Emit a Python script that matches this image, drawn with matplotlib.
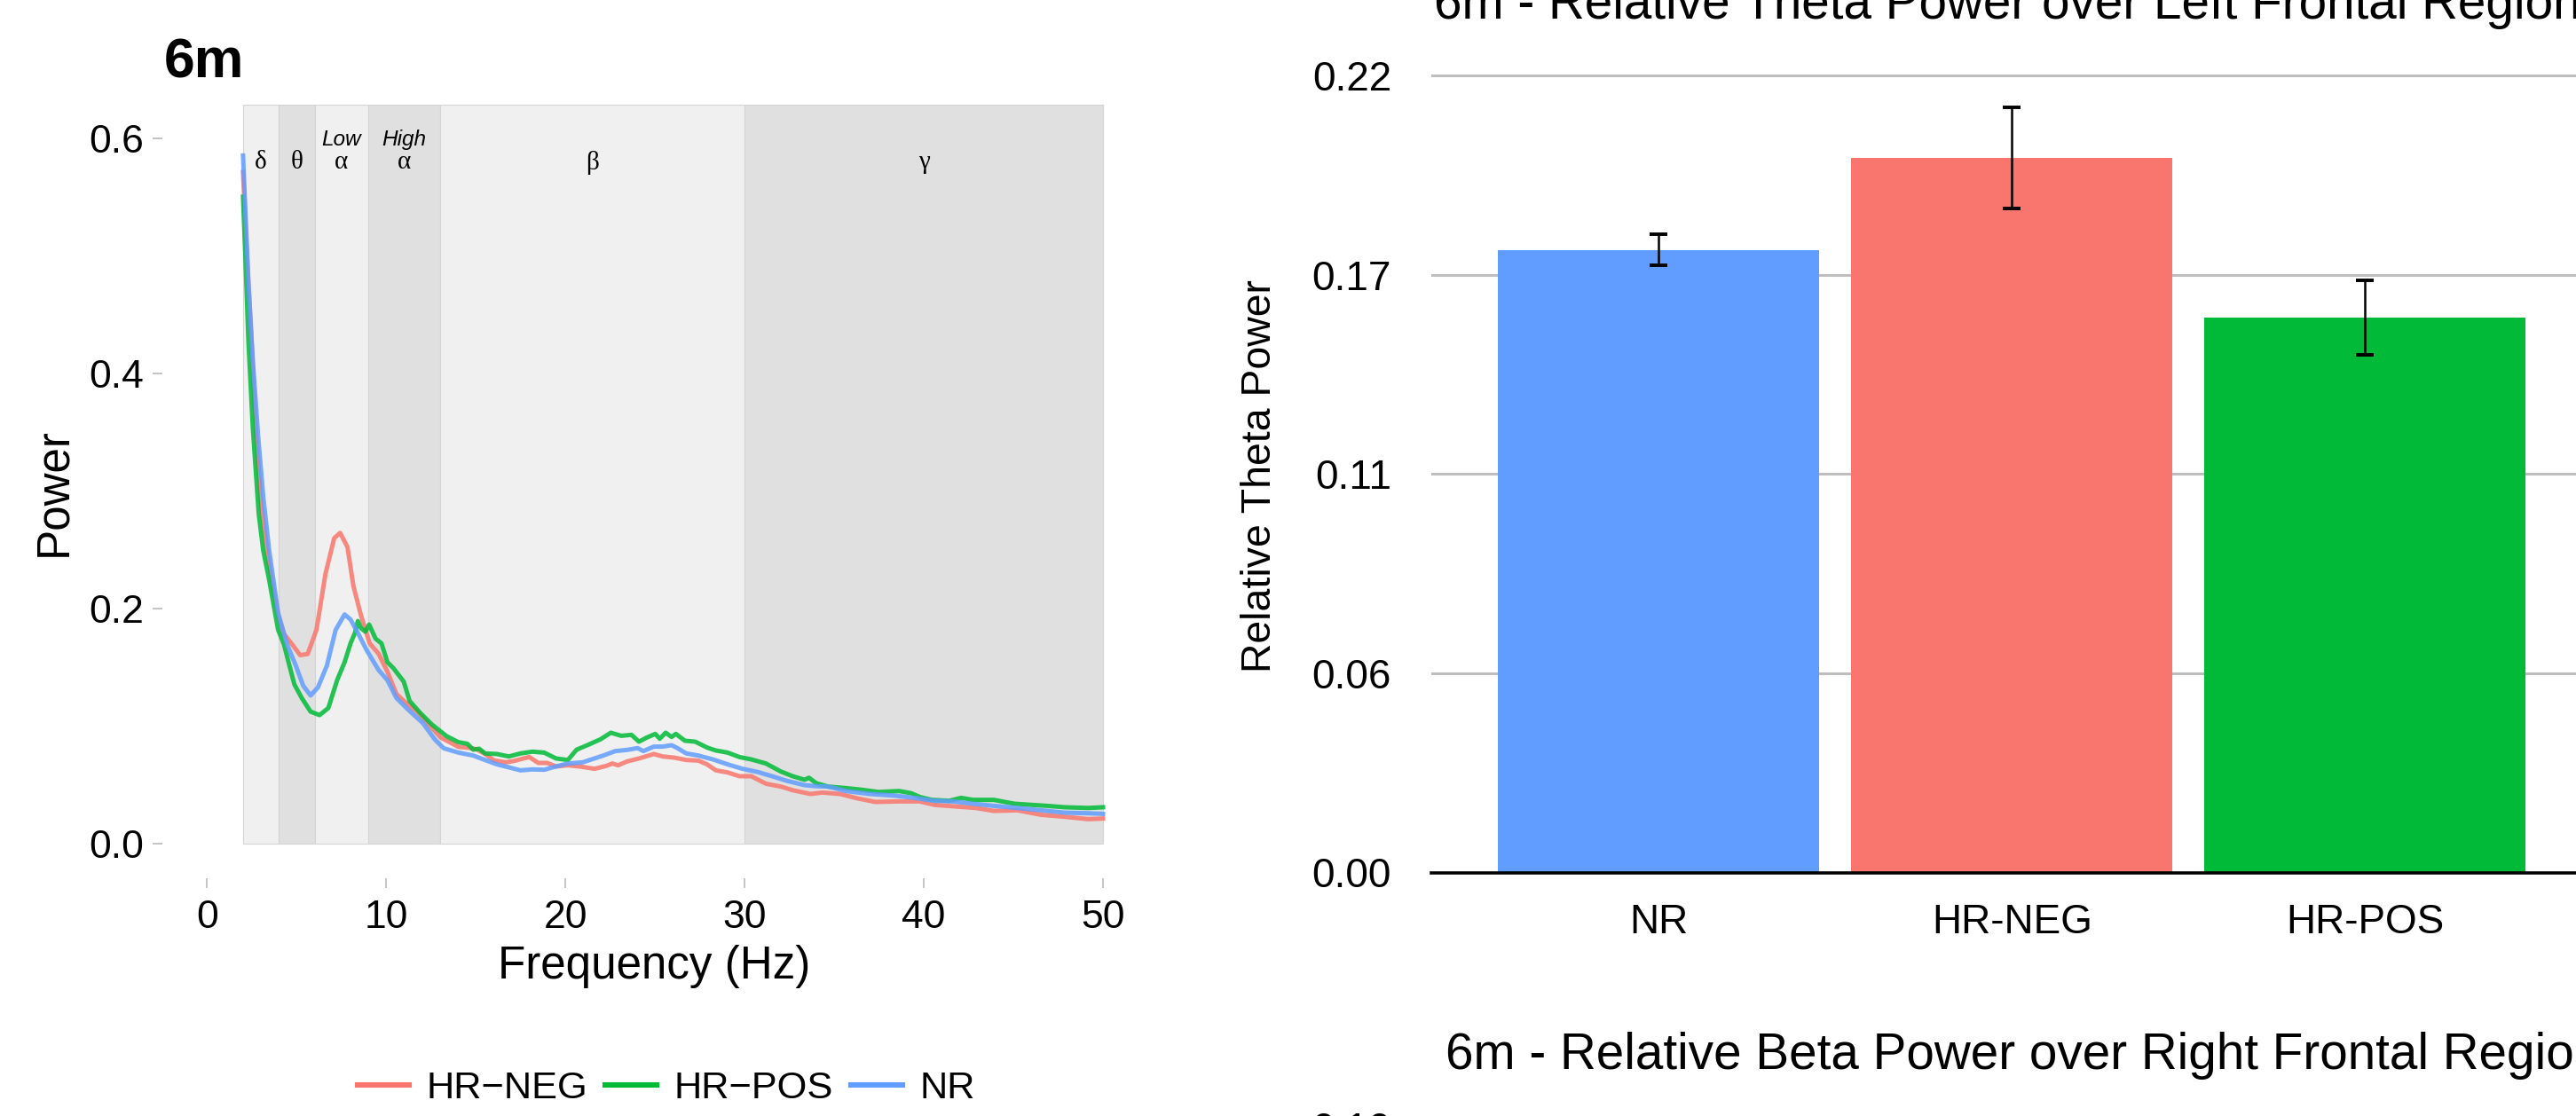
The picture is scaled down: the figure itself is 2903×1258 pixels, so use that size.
import matplotlib
matplotlib.use('Agg')
import matplotlib.pyplot as plt
from matplotlib.patches import Rectangle
from matplotlib.lines import Line2D

plt.rcParams['font.family'] = ['Liberation Sans', 'DejaVu Sans']

# ---------------- data: power spectra (left) ----------------
neg_freq = [2.0, 2.22, 2.47, 2.72, 3.0, 3.46, 3.96, 4.29, 4.70, 5.19, 5.61, 6.10, 6.60, 7.09, 7.42,
            7.83, 8.16, 8.58, 9.07, 9.56, 10.06, 10.56, 11.05, 11.71, 12.37, 13.03, 14.02, 14.69,
            15.02, 15.51, 16.0, 16.66, 17.16, 17.65, 17.98, 18.48, 18.98, 19.47, 20.13, 20.79,
            21.62, 22.28, 22.61, 22.94, 23.44, 24.10, 24.93, 25.42, 26.08, 26.74, 27.41, 27.90,
            28.39, 29.05, 29.71, 30.37, 31.19, 32.02, 32.68, 33.67, 34.33, 35.32, 36.31, 37.30,
            38.62, 39.77, 40.60, 41.92, 42.91, 43.90, 45.22, 46.54, 47.86, 49.18, 50.0]
neg_power = [0.571, 0.50, 0.428, 0.353, 0.29, 0.237, 0.194, 0.178, 0.170, 0.160, 0.161, 0.1815,
             0.229, 0.2595, 0.264, 0.252, 0.219, 0.194, 0.170, 0.1614, 0.146, 0.127, 0.120, 0.112,
             0.101, 0.090, 0.082, 0.081, 0.080, 0.076, 0.0705, 0.0688, 0.0701, 0.0721, 0.0733,
             0.0683, 0.0683, 0.0653, 0.0663, 0.0653, 0.0633, 0.0658, 0.0678, 0.0663, 0.0696,
             0.0721, 0.0759, 0.0738, 0.0728, 0.0708, 0.0703, 0.0671, 0.0620, 0.0602, 0.0570,
             0.0570, 0.0506, 0.0482, 0.0451, 0.0419, 0.0431, 0.0419, 0.0381, 0.0351, 0.0356,
             0.0356, 0.0326, 0.0311, 0.0300, 0.0275, 0.0280, 0.0242, 0.0225, 0.0205, 0.0210]

pos_freq = [2.0, 2.13, 2.30, 2.55, 2.88, 3.13, 3.46, 3.96, 4.29, 4.54, 4.87, 5.28, 5.77, 6.27, 6.76,
            7.26, 7.67, 8.0, 8.25, 8.41, 8.58, 8.83, 9.04, 9.40, 9.73, 10.06, 10.39, 10.97, 11.30,
            11.88, 12.54, 13.37, 14.02, 14.52, 14.85, 15.18, 15.51, 16.17, 16.83, 17.49, 18.15,
            18.81, 19.47, 20.13, 20.62, 21.29, 21.95, 22.53, 23.11, 23.68, 24.10, 24.51, 25.01,
            25.26, 25.59, 25.92, 26.16, 26.66, 27.24, 27.90, 28.39, 29.05, 29.71, 30.37, 31.19,
            32.02, 32.68, 33.34, 33.59, 34.0, 34.66, 35.65, 36.48, 37.47, 38.62, 39.28, 39.77,
            40.43, 41.42, 42.08, 42.74, 43.90, 45.05, 46.04, 46.87, 47.86, 49.18, 50.0]
pos_power = [0.550, 0.50, 0.428, 0.353, 0.28, 0.249, 0.224, 0.1815, 0.169, 0.154, 0.135, 0.1235,
             0.112, 0.109, 0.115, 0.139, 0.154, 0.170, 0.179, 0.189, 0.183, 0.180, 0.186, 0.174,
             0.170, 0.154, 0.149, 0.1375, 0.121, 0.111, 0.101, 0.091, 0.086, 0.0846, 0.0796,
             0.0804, 0.0764, 0.0759, 0.0738, 0.0764, 0.0779, 0.0771, 0.0721, 0.0708, 0.0796,
             0.0839, 0.0884, 0.0940, 0.0914, 0.0922, 0.0864, 0.0897, 0.0930, 0.0889, 0.0940,
             0.0904, 0.0930, 0.0872, 0.0864, 0.0814, 0.0789, 0.0771, 0.0733, 0.0713, 0.0678,
             0.0610, 0.0570, 0.0540, 0.0557, 0.0510, 0.0482, 0.0469, 0.0456, 0.0436, 0.0444,
             0.0426, 0.0394, 0.0369, 0.0361, 0.0386, 0.0369, 0.0369, 0.0336, 0.0326, 0.0318,
             0.0306, 0.0300, 0.0306]

nr_freq = [2.0, 2.30, 2.55, 2.85, 3.13, 3.46, 3.96, 4.46, 4.95, 5.36, 5.77, 6.18, 6.68, 7.17, 7.67,
           8.0, 8.41, 8.91, 9.56, 10.06, 10.56, 11.22, 12.04, 12.70, 13.20, 14.02, 14.85, 15.51,
           16.17, 16.83, 17.49, 18.15, 18.81, 19.47, 20.13, 20.95, 21.45, 22.11, 22.78, 23.44,
           24.02, 24.35, 24.93, 25.42, 25.92, 26.25, 26.74, 27.41, 28.23, 29.05, 29.88, 30.70,
           31.53, 32.35, 33.34, 34.0, 34.66, 35.65, 36.97, 38.29, 39.44, 40.60, 41.59, 42.74,
           43.90, 45.22, 46.54, 47.86, 49.18, 50.0]
nr_power = [0.585, 0.478, 0.41, 0.345, 0.2947, 0.249, 0.196, 0.169, 0.151, 0.134, 0.1257, 0.1325,
            0.151, 0.1815, 0.1946, 0.1904, 0.179, 0.164, 0.1475, 0.1387, 0.1236, 0.1136, 0.1022,
            0.0884, 0.0808, 0.0771, 0.0746, 0.0708, 0.0671, 0.0646, 0.0620, 0.0628, 0.0625,
            0.0653, 0.0678, 0.0688, 0.0713, 0.0746, 0.0784, 0.0794, 0.0809, 0.0784, 0.0822,
            0.0822, 0.0834, 0.0809, 0.0764, 0.0746, 0.0713, 0.0671, 0.0633, 0.0607, 0.0570,
            0.0531, 0.0494, 0.0485, 0.0482, 0.0444, 0.0419, 0.0406, 0.0386, 0.0361, 0.0356,
            0.0336, 0.0318, 0.0300, 0.0280, 0.0260, 0.0255, 0.0250]

band_start = [2, 4, 6, 9, 13, 30]
band_end = [4, 6, 9, 13, 30, 50]
band_symbol = ['δ', 'θ', 'α', 'α', 'β', 'γ']
band_prefix = ['', '', 'Low', 'High', '', '']

x_ticks = [0, 10, 20, 30, 40, 50]
y_ticks = [0.0, 0.2, 0.4, 0.6]
y_tick_labels = ['0.0', '0.2', '0.4', '0.6']

# ---------------- data: bar chart (right) ----------------
groups = ['NR', 'HR-NEG', 'HR-POS']
theta_mean = [0.1719, 0.1973, 0.1532]
theta_se = [0.0043, 0.0140, 0.0103]
bar_breaks = [0.0, 0.055, 0.11, 0.165, 0.22]
bar_break_labels = ['0.00', '0.06', '0.11', '0.17', '0.22']

RED, GREEN, BLUE = '#F8766D', '#00BA38', '#619CFF'

W, H, DPI = 2903, 1258, 200
fig = plt.figure(figsize=(W / DPI, H / DPI), dpi=DPI)


def fx(px):
    return px / W


def fy(py):
    return 1 - py / H


# ---------------- left panel ----------------
ax1 = fig.add_axes([fx(183), fy(990), fx(1293.5) - fx(183), fy(118.4) - fy(990)])
ytop = 0.628
ax1.set_xlim(-2.5, 52.5)
ax1.set_ylim(-0.0298, ytop)
for i, (s, e) in enumerate(zip(band_start, band_end)):
    fc = '#F0F0F0' if i % 2 == 0 else '#E0E0E0'
    ax1.add_patch(Rectangle((s, 0), e - s, ytop, facecolor=fc, edgecolor='#D4D4D4',
                            linewidth=0.4, zorder=0))
    cx = (s + e) / 2
    ax1.text(cx, 0.579, band_symbol[i], family=['Liberation Serif', 'DejaVu Serif'],
             fontsize=10.5, ha='center', va='center', zorder=3)
    if band_prefix[i]:
        ax1.text(cx, 0.5985, band_prefix[i], fontstyle='italic', fontsize=8.8,
                 ha='center', va='center', zorder=3)

ax1.plot(neg_freq, neg_power, color=RED, lw=1.8, alpha=0.85, zorder=2)
ax1.plot(pos_freq, pos_power, color=GREEN, lw=1.8, alpha=0.85, zorder=2)
ax1.plot(nr_freq, nr_power, color=BLUE, lw=1.8, alpha=0.85, zorder=2)

ax1.set_xticks(x_ticks)
ax1.set_xticklabels([str(t) for t in x_ticks])
ax1.set_yticks(y_ticks)
ax1.set_yticklabels(y_tick_labels)
ax1.tick_params(axis='both', colors='#C4C4C4', labelcolor='black', length=4, width=0.7,
                labelsize=16)
ax1.tick_params(axis='x', pad=4.7)
ax1.tick_params(axis='y', pad=3.6)
for sp in ax1.spines.values():
    sp.set_visible(False)

fig.text(fx(185), fy(87), '6m', fontsize=22.5, fontweight='bold', ha='left', va='baseline')
fig.text(fx(61), fy(555), 'Power', rotation=90, fontsize=18.4, ha='center', va='center')
fig.text(fx(737.5), fy(1090), 'Frequency (Hz)', fontsize=18.4, ha='center', va='center')

handles = [Line2D([], [], color=c, lw=2.2) for c in (RED, GREEN, BLUE)]
fig.legend(handles, ['HR\u2212NEG', 'HR\u2212POS', 'NR'], loc='center',
           bbox_to_anchor=(fx(751), fy(1227)), ncol=3, frameon=False, fontsize=15.6,
           handlelength=1.35, handletextpad=0.45, columnspacing=0.45, borderpad=0)

# ---------------- right panel ----------------
ax2 = fig.add_axes([fx(1612.5), fy(983.5), fx(2922) - fx(1612.5), fy(62.8) - fy(983.5)])
ax2.set_xlim(0.354, 3.646)
ax2.set_ylim(0, 0.2255)
for b in bar_breaks:
    ax2.axhline(b, color='#BEBEBE', lw=1.1, zorder=0)
ax2.bar([1, 2, 3], theta_mean, width=0.91, color=[BLUE, RED, GREEN], zorder=2)
ax2.errorbar([1, 2, 3], theta_mean, yerr=theta_se, fmt='none', ecolor='black',
             elinewidth=0.9, capsize=3.6, capthick=1.4, zorder=3)
ax2.set_xticks([1, 2, 3])
ax2.set_xticklabels(groups)
ax2.set_yticks(bar_breaks)
ax2.set_yticklabels(bar_break_labels)
ax2.tick_params(axis='both', length=0, labelsize=16.5)
ax2.tick_params(axis='x', pad=12.4)
ax2.tick_params(axis='y', pad=16)
for name, sp in ax2.spines.items():
    sp.set_visible(name == 'bottom')
ax2.spines['bottom'].set_color('black')
ax2.spines['bottom'].set_linewidth(1.3)
ax2.spines['bottom'].set_zorder(4)

fig.text(fx(1616), fy(21), '6m - Relative Theta Power over Left Frontal Region',
         fontsize=20.4, ha='left', va='baseline')
fig.text(fx(1420), fy(537), 'Relative Theta Power', rotation=90, fontsize=16.7,
         ha='center', va='center')
fig.text(fx(1629), fy(1205), '6m - Relative Beta Power over Right Frontal Region',
         fontsize=20.4, ha='left', va='baseline')
fig.text(fx(1568), fy(1287), '0.10', fontsize=16.5, ha='right', va='baseline')

fig.savefig('out.png', dpi=DPI)
